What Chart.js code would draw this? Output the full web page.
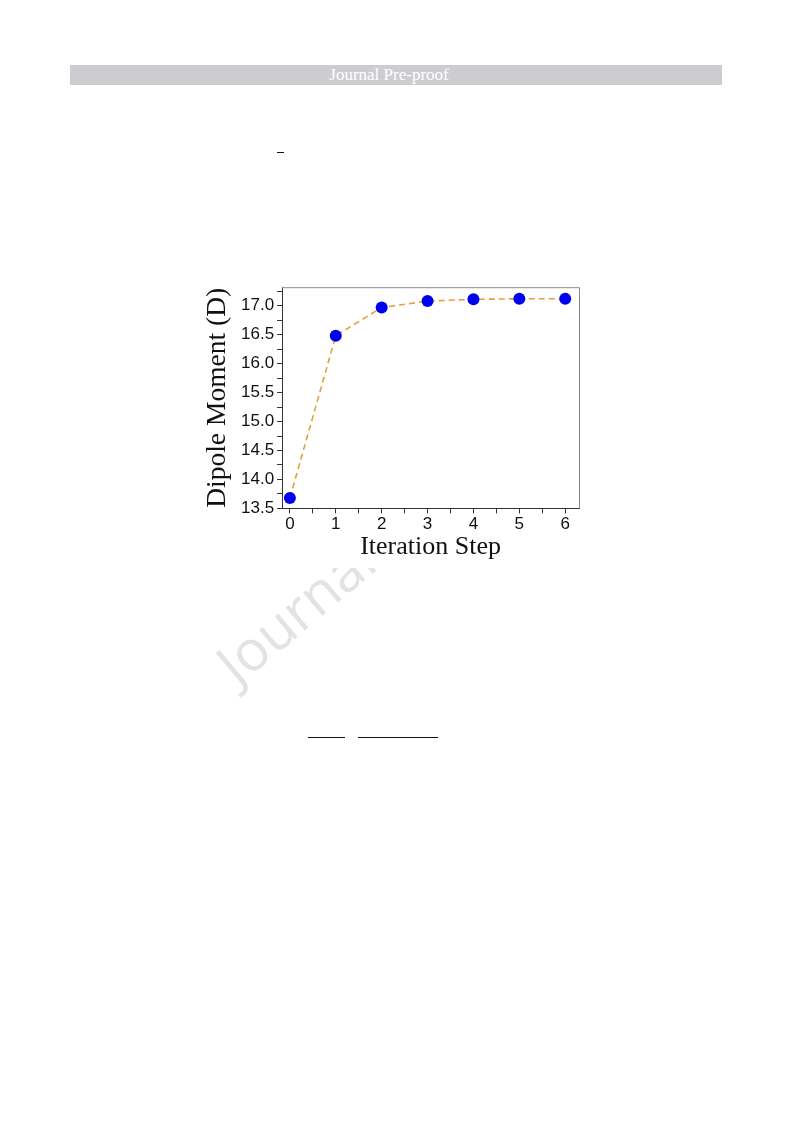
<!DOCTYPE html>
<html>
<head>
<meta charset="utf-8">
<script src="https://cdn.jsdelivr.net/npm/chart.js@4.4.1/dist/chart.umd.min.js"></script>
<style>
    body { margin: 0; background: #fff; }
    #page { position: relative; width: 793px; height: 1123px; overflow: hidden; background: #fff; }
    #header { position: absolute; left: 70px; top: 65px; width: 652px; height: 20px; background: #cdcdd1;
              color: #fff; font: 17px "Liberation Serif", serif; text-align: center; line-height: 20px; text-indent: -14px; }
    #watermark { position: absolute; left: 199px; top: 641px; font: 56px "Open Sans", sans-serif; color: #e3e3e3;
                 transform: rotate(-40deg); transform-origin: 0 0; white-space: nowrap; }
    #chart-box { position: absolute; left: 195px; top: 274px; width: 392px; height: 294px; background: #fff; }
    .rule { position: absolute; height: 1px; background: #111; }
</style>
</head>
<body>
<div id="page">
    <div id="header">Journal Pre-proof</div>
    <div class="rule" style="left:277px; top:152px; width:7px;"></div>
    <div id="watermark">Journal Pre-proof</div>
    <div id="chart-box"><canvas id="dipole-chart"></canvas></div>
    <div class="rule" style="left:308px; top:737px; width:37px;"></div>
    <div class="rule" style="left:358px; top:737px; width:80px;"></div>
</div>
<script>
// Data
const steps = [0, 1, 2, 3, 4, 5, 6];
const dipoleMoment = [13.68, 16.48, 16.97, 17.08, 17.11, 17.12, 17.12];
const xTickLabels = ['0', '1', '2', '3', '4', '5', '6'];
const yTickLabels = ['13.5', '14.0', '14.5', '15.0', '15.5', '16.0', '16.5', '17.0'];

const majorX = xTickLabels.map(Number);
const majorY = yTickLabels.map(Number);

// major + minor (half-step) tick values
function withMinor(major, step) {
    const out = [];
    major.forEach(v => {
        out.push(v);
        out.push(v + step / 2);
    });
    return out;
}

// gray frame on top/right like the original plot
const framePlugin = {
    id: 'frame',
    afterDraw(chart) {
        const { ctx, chartArea: a } = chart;
        ctx.save();
        ctx.strokeStyle = '#8a8a8a';
        ctx.lineWidth = 1;
        ctx.beginPath();
        ctx.moveTo(a.left, a.top + 0.5);
        ctx.lineTo(a.right + 0.5, a.top + 0.5);
        ctx.lineTo(a.right + 0.5, a.bottom);
        ctx.stroke();
        ctx.restore();
    }
};

const ctx = document.getElementById('dipole-chart').getContext('2d');
new Chart(ctx, {
    type: 'line',
    data: {
        datasets: [{
            data: steps.map((s, i) => ({ x: s, y: dipoleMoment[i] })),
            borderColor: '#e3a03c',
            borderWidth: 1.6,
            borderDash: [6, 4],
            pointRadius: 6,
            pointBackgroundColor: '#0000f0',
            pointBorderColor: '#0000f0',
            pointBorderWidth: 0,
            tension: 0
        }]
    },
    options: {
        responsive: true,
        maintainAspectRatio: false,
        animation: false,
        layout: { padding: { left: 6, right: 8, top: 0, bottom: 5 } },
        plugins: {
            legend: { display: false },
            tooltip: { enabled: false }
        },
        scales: {
            x: {
                type: 'linear',
                min: -0.17,
                max: 6.3,
                afterBuildTicks(scale) {
                    scale.ticks = withMinor(majorX, 1).filter(v => v <= 6.3).map(v => ({ value: v }));
                },
                ticks: {
                    color: '#111',
                    font: { family: 'Liberation Sans', size: 17 },
                    padding: 1,
                    maxRotation: 0,
                    autoSkip: false,
                    callback: (v) => {
                        const i = majorX.indexOf(v);
                        return i >= 0 ? xTickLabels[i] : '';
                    }
                },
                grid: { drawOnChartArea: false, drawTicks: true, tickLength: 5, color: '#333' },
                border: { display: true, color: '#333', width: 1 },
                title: {
                    display: true,
                    text: 'Iteration Step',
                    color: '#111',
                    font: { family: 'Liberation Serif', size: 26 },
                    padding: { top: -4, bottom: 0 }
                }
            },
            y: {
                type: 'linear',
                min: 13.5,
                max: 17.32,
                afterBuildTicks(scale) {
                    scale.ticks = withMinor(majorY, 0.5).filter(v => v <= 17.32).map(v => ({ value: v }));
                },
                ticks: {
                    color: '#111',
                    font: { family: 'Liberation Sans', size: 17 },
                    padding: 3,
                    autoSkip: false,
                    callback: (v) => {
                        const i = majorY.findIndex(m => Math.abs(m - v) < 1e-9);
                        return i >= 0 ? yTickLabels[i] : '';
                    }
                },
                grid: { drawOnChartArea: false, drawTicks: true, tickLength: 5, color: '#333' },
                border: { display: true, color: '#333', width: 1 },
                title: {
                    display: true,
                    text: 'Dipole Moment (D)',
                    color: '#111',
                    font: { family: 'Liberation Serif', size: 27.5 },
                    padding: { top: 0, bottom: 4 }
                }
            }
        }
    },
    plugins: [framePlugin]
});
</script>
</body>
</html>
